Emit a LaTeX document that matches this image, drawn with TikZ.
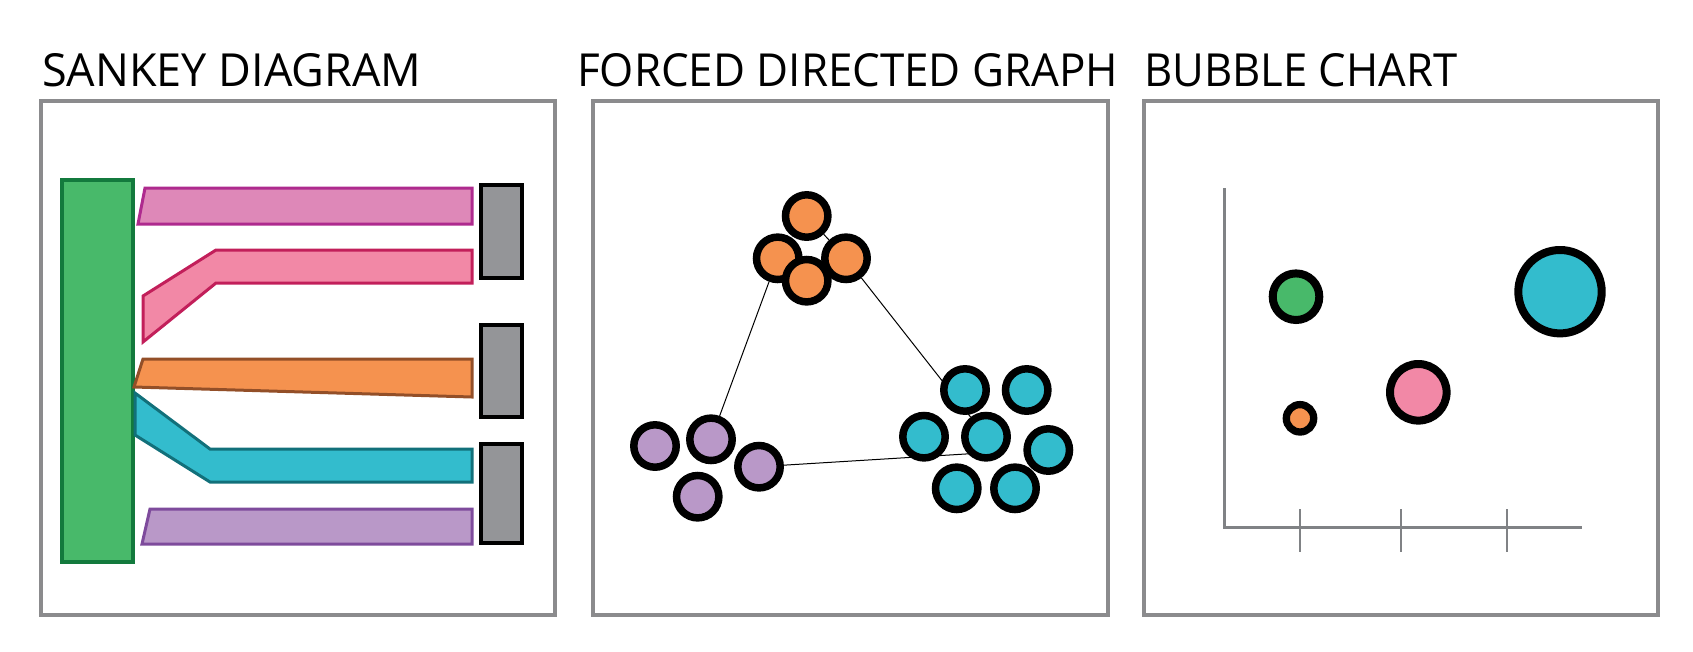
\documentclass[tikz,border=0pt]{standalone}
\usepackage{fontspec}
\usepackage{graphicx}
\setsansfont{Open Sans}
\usetikzlibrary{backgrounds}
\definecolor{panelgray}{RGB}{139,139,141}
\definecolor{axisgray}{RGB}{128,130,133}
\definecolor{sinkgray}{RGB}{148,149,152}
\definecolor{greenfill}{RGB}{72,185,106}
\definecolor{greenline}{RGB}{19,122,61}
\definecolor{magfill}{RGB}{222,136,184}
\definecolor{magline}{RGB}{174,42,142}
\definecolor{pinkfill}{RGB}{242,136,166}
\definecolor{pinkline}{RGB}{194,31,90}
\definecolor{orangefill}{RGB}{245,146,79}
\definecolor{orangeline}{RGB}{147,79,40}
\definecolor{cyanfill}{RGB}{51,188,205}
\definecolor{cyanline}{RGB}{18,112,122}
\definecolor{purplefill}{RGB}{185,152,200}
\definecolor{purpleline}{RGB}{126,75,156}
\begin{document}
\begin{tikzpicture}[x=1pt,y=-1pt,
    panel/.style={draw=panelgray,line width=3.3pt},
    title/.style={inner sep=0pt,anchor=base west},
    band/.style={line width=3pt},
    sink/.style={draw=black,fill=sinkgray,line width=4pt,inner sep=0pt,minimum width=41pt},
    dot/.style={circle,draw=black,line width=7.5pt,inner sep=0pt,minimum size=42.4pt},
    bubble/.style={circle,draw=black,line width=8pt,inner sep=0pt},
    axis/.style={draw=axisgray,line width=3pt},
    tick/.style={draw=axisgray,line width=1.8pt}]
    \useasboundingbox (0,0) rectangle (1693,651);
    % titles
    \node[title] (tsankey) at (42,86) {\resizebox{379pt}{33pt}{\sffamily SANKEY DIAGRAM}};
    \node[title] (tforce) at (577,86) {\resizebox{541pt}{33pt}{\sffamily FORCED DIRECTED GRAPH}};
    \node[title] (tbubble) at (1144,86) {\resizebox{313pt}{33pt}{\sffamily BUBBLE CHART}};
    % panels
    \draw[panel] (41,101) rectangle (555,615);
    \draw[panel] (593,101) rectangle (1108,615);
    \draw[panel] (1144,101) rectangle (1658,615);
    % sankey
    \node[draw=greenline,fill=greenfill,line width=4pt,inner sep=0pt,minimum width=71pt,minimum height=382.3pt] (source) at (97.5,370.8) {};
    \draw[band,draw=magline,fill=magfill] (145,188) -- (472,188) -- (472,224) -- (138,224) -- cycle;
    \draw[band,draw=pinkline,fill=pinkfill] (472,250) -- (216,250) -- (143,296) -- (143,342) -- (216,283) -- (472,283) -- cycle;
    \draw[band,draw=orangeline,fill=orangefill] (143,359) -- (472,359) -- (472,397) -- (134,387) -- cycle;
    \draw[band,draw=cyanline,fill=cyanfill] (135,393) -- (210,449) -- (472,449) -- (472,482) -- (210,482) -- (135,435) -- cycle;
    \draw[band,draw=purpleline,fill=purplefill] (150,509) -- (472,509) -- (472,544) -- (142,544) -- cycle;
    \node[sink,minimum height=93.3pt] (sinkA) at (501.5,231.3) {};
    \node[sink,minimum height=92pt] (sinkB) at (501.5,370.7) {};
    \node[sink,minimum height=99.3pt] (sinkC) at (501.5,493.3) {};
    % force directed graph
    \node[dot,fill=orangefill] (o1) at (806.7,216) {};
    \node[dot,fill=orangefill] (o2) at (777.7,258.3) {};
    \node[dot,fill=orangefill] (o3) at (846,258.3) {};
    \node[dot,fill=orangefill] (o4) at (806.7,280.7) {};
    \node[dot,fill=purplefill] (p1) at (655,446) {};
    \node[dot,fill=purplefill] (p2) at (711,439.3) {};
    \node[dot,fill=purplefill] (p3) at (759,466.7) {};
    \node[dot,fill=purplefill] (p4) at (697.7,496.7) {};
    \node[dot,fill=cyanfill] (c1) at (965,390) {};
    \node[dot,fill=cyanfill] (c6) at (1026.7,390) {};
    \node[dot,fill=cyanfill] (c2) at (924,436.7) {};
    \node[dot,fill=cyanfill] (c3) at (986,436.7) {};
    \node[dot,fill=cyanfill] (c4) at (1048.3,450) {};
    \node[dot,fill=cyanfill] (c5) at (956.7,488.3) {};
    \node[dot,fill=cyanfill] (c7) at (1015,488.3) {};
    \coordinate (chub) at (990,452.5);
    \begin{scope}[on background layer]
        \path [draw,line width=1pt] (o1) edge (o3);
        \path [draw,line width=1pt] (o2) edge (p2);
        \path [draw,line width=1pt] (o3) edge (c3);
        \path [draw,line width=1pt] (p3) edge (chub);
    \end{scope}
    % bubble chart
    \draw[axis] (1224,188) -- (1224,527) -- (1582,527);
    \foreach \x in {1300,1401,1507}
        \draw[tick] (\x,509) -- (\x,552);
    \node[bubble,fill=greenfill,minimum size=46.6pt] (bgreen) at (1296,296.7) {};
    \node[bubble,fill=orangefill,line width=7.3pt,minimum size=27.4pt] (borange) at (1300,418.3) {};
    \node[bubble,fill=pinkfill,minimum size=56.6pt] (bpink) at (1418.3,392.3) {};
    \node[bubble,fill=cyanfill,minimum size=83.4pt] (bcyan) at (1560,291.7) {};
\end{tikzpicture}
\end{document}
